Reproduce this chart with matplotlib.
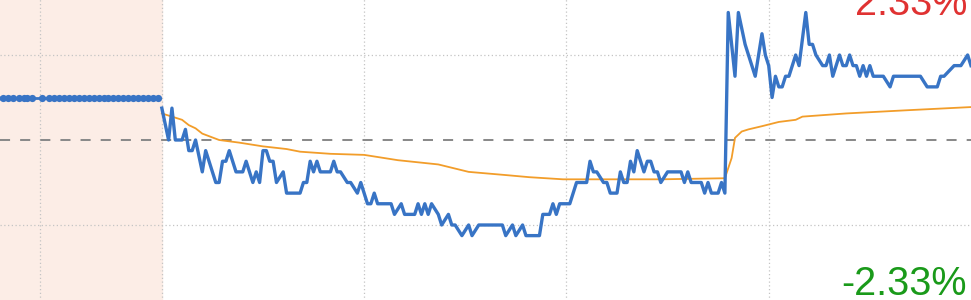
import matplotlib
matplotlib.use("Agg")
import matplotlib.pyplot as plt

# previous close and chart range (+/- 0.16 -> 2.33%)
prev_close = 6.87
half_range = 0.16

# call-auction period (minutes before the open, drawn in the shaded band)
auction_minute = [-49, -47, -45.5, -44, -42.5, -41, -40, -38.6, -35.6,
                  -33.5, -32, -30.5, -29, -27.5, -26, -24.5, -23, -21.5, -20, -18.5, -17.2,
                  -16, -14.5, -13, -11.5, -10, -8.5, -7, -5.5, -4, -2.5, -1]
auction_price = [6.91] * len(auction_minute)

# continuous session, minutes after 9:30
trade_minute = [0, 2, 3, 4, 6, 7, 8, 9, 10, 12,
                13, 16, 17, 18, 19, 20, 22, 24, 25, 27,
                28, 29, 30, 31, 32, 33, 34, 36, 37, 41,
                42, 43, 44, 45, 46, 47, 50, 51, 52, 53,
                55, 56, 58, 59, 61, 62, 63, 64, 68, 69,
                71, 72, 75, 76, 77, 78, 79, 80, 82, 83,
                85, 86, 87, 89, 91, 92, 94, 101, 102, 104,
                105, 107, 108, 112, 113, 115, 116, 117, 118, 121,
                123, 126, 127, 128, 129, 131, 132, 133, 135, 136,
                137, 138, 139, 140, 141, 143, 144, 145, 146, 147,
                148, 150, 154, 155, 156, 157, 160, 161, 162, 163,
                165, 166, 167, 168, 170, 171, 173, 176, 177, 178,
                179, 180, 181, 182, 183, 184, 185, 186, 188, 189,
                191, 192, 193, 194, 196, 197, 198, 199, 201, 202,
                203, 204, 205, 206, 207, 208, 209, 210, 211, 214,
                216, 217, 225, 227, 230, 231, 232, 235, 237, 239,
                240]
trade_price = [6.90, 6.87, 6.90, 6.87, 6.87, 6.88, 6.86, 6.86, 6.87, 6.84,
               6.86, 6.83, 6.83, 6.85, 6.85, 6.86, 6.84, 6.84, 6.85, 6.83,
               6.84, 6.83, 6.86, 6.86, 6.85, 6.85, 6.83, 6.84, 6.82, 6.82,
               6.83, 6.83, 6.85, 6.84, 6.85, 6.84, 6.84, 6.85, 6.84, 6.84,
               6.83, 6.83, 6.82, 6.83, 6.81, 6.81, 6.82, 6.81, 6.81, 6.80,
               6.81, 6.80, 6.80, 6.81, 6.80, 6.81, 6.80, 6.81, 6.80, 6.79,
               6.80, 6.79, 6.79, 6.78, 6.79, 6.78, 6.79, 6.79, 6.78, 6.79,
               6.78, 6.79, 6.78, 6.78, 6.80, 6.80, 6.81, 6.80, 6.81, 6.81,
               6.83, 6.83, 6.85, 6.84, 6.84, 6.83, 6.83, 6.82, 6.82, 6.84,
               6.83, 6.83, 6.85, 6.84, 6.86, 6.84, 6.85, 6.85, 6.84, 6.84,
               6.83, 6.84, 6.84, 6.83, 6.84, 6.83, 6.83, 6.82, 6.83, 6.82,
               6.82, 6.83, 6.82, 6.99, 6.93, 6.99, 6.96, 6.93, 6.95, 6.97,
               6.95, 6.94, 6.91, 6.93, 6.92, 6.92, 6.93, 6.93, 6.95, 6.94,
               6.99, 6.96, 6.96, 6.95, 6.94, 6.94, 6.95, 6.93, 6.95, 6.94,
               6.94, 6.95, 6.94, 6.94, 6.93, 6.94, 6.93, 6.94, 6.93, 6.93,
               6.92, 6.93, 6.93, 6.92, 6.92, 6.93, 6.93, 6.94, 6.94, 6.95,
               6.94]

# average price line
avg_minute = [0, 3, 6, 8, 10, 12, 17, 23, 30, 37, 41, 50, 60, 70, 82, 91,
              102, 109, 119, 148, 167, 169, 170, 172, 174, 178, 183, 188,
              190, 203, 221, 240]
avg_price = [6.895, 6.892, 6.889, 6.884, 6.881, 6.876, 6.870, 6.8675, 6.864,
             6.8615, 6.859, 6.857, 6.856, 6.851, 6.847, 6.840, 6.837, 6.835,
             6.833, 6.833, 6.834, 6.853, 6.872, 6.878, 6.880, 6.883, 6.887,
             6.889, 6.892, 6.895, 6.898, 6.901]

assert len(trade_minute) == len(trade_price)
assert len(avg_minute) == len(avg_price)

grid_minutes = [-36.2, 0, 60, 120, 180]
grid_prices = [prev_close + 0.08, prev_close - 0.08]

blue = '#3874c5'
orange = '#f29d2a'

fig = plt.figure(figsize=(9.71, 3.0), dpi=100)
# plot area runs a little past the picture at top and bottom
ax = fig.add_axes([0, -10 / 300, 1, 340 / 300])
ax.set_xlim(-48, 240)
ax.set_ylim(prev_close - half_range, prev_close + half_range)
ax.axis('off')

ax.axvspan(-48, 0, color='#fcede6', zorder=0)

for m in grid_minutes:
    ax.axvline(m, color='#c4c4c4', lw=0.9, ls=(0, (1, 2)), zorder=1)
for p in grid_prices:
    ax.axhline(p, color='#c4c4c4', lw=0.9, ls=(0, (1, 2)), zorder=1)
ax.axhline(prev_close, color='#8a8a8a', lw=1.45, ls=(0, (5, 5)), zorder=2)

ax.plot(auction_minute, auction_price, color=blue, lw=2.0, marker='o',
        markersize=5.2, markeredgewidth=0, zorder=4)
ax.plot(avg_minute, avg_price, color=orange, lw=1.3, zorder=3)
ax.plot(trade_minute, trade_price, color=blue, lw=2.4, zorder=4)

pct = half_range / prev_close * 100
fig.text(0.996, 1 - 15 / 300, '%.2f%%' % pct, color='#e03232',
         fontsize=28.5, family='Liberation Sans', ha='right', va='baseline')
fig.text(0.996, 1 - 295 / 300, '-%.2f%%' % pct, color='#1a9a1a',
         fontsize=28.5, family='Liberation Sans', ha='right', va='baseline')

fig.savefig('out.png', dpi=100)
